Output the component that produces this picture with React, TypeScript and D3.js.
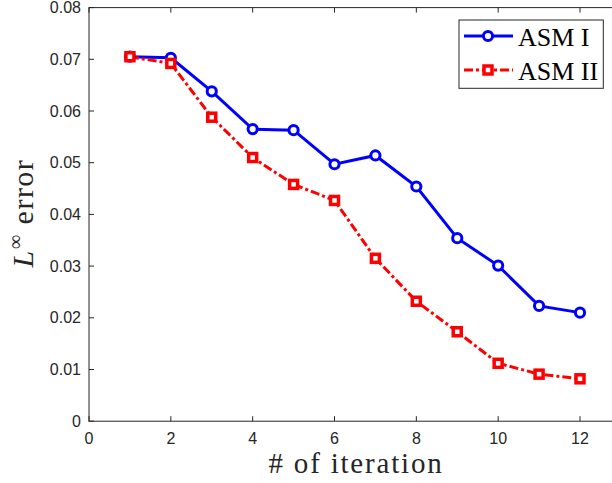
import React from "react";
import * as d3 from "d3";

const iterations = [1, 2, 3, 4, 5, 6, 7, 8, 9, 10, 11, 12];
const asm1 = [0.0705, 0.0703, 0.0638, 0.0565, 0.0563, 0.0497, 0.0514, 0.0454, 0.0354, 0.0301, 0.0223, 0.021];
const asm2 = [0.0705, 0.0692, 0.0588, 0.051, 0.0458, 0.0427, 0.0315, 0.0232, 0.0173, 0.0112, 0.0091, 0.0082];
const xTicks = [0, 2, 4, 6, 8, 10, 12];
const yTicks = [0, 0.01, 0.02, 0.03, 0.04, 0.05, 0.06, 0.07, 0.08];
const seriesNames = ["ASM I", "ASM II"];

const W = 612;
const H = 483;
const left = 89;
const top = 7.6;
const bottom = 421.2;
const axisColor = "#262626";

export default function App() {
  const x = d3.scaleLinear().domain([0, 12]).range([left, 580]);
  const y = d3.scaleLinear().domain([0, 0.08]).range([bottom, top]);
  const right = x(13);
  const line = d3
    .line<number>()
    .x((_, i) => x(iterations[i]))
    .y((d) => y(d));
  const sans = "Arial, 'Liberation Sans', Helvetica, sans-serif";
  const serif = "'Liberation Serif', 'Times New Roman', serif";
  const lx0 = 459, ly0 = 20, ly1 = 88.3;
  const sq = 8;
  return (
    <svg
      width={W}
      height={H}
      style={{ position: "absolute", left: 0, top: 0, background: "#fff" }}
    >
      <rect x={0} y={0} width={W} height={H} fill="#fff" />
      {/* axes box */}
      <rect x={left} y={top} width={right - left} height={bottom - top} fill="none" stroke={axisColor} strokeWidth={1} />
      {xTicks.map((t) => (
        <g key={"x" + t}>
          <line x1={x(t)} x2={x(t)} y1={bottom} y2={bottom - 5} stroke={axisColor} />
          <line x1={x(t)} x2={x(t)} y1={top} y2={top + 5} stroke={axisColor} />
          <text x={x(t)} y={438} textAnchor="middle" dominantBaseline="central" fontFamily={sans} fontSize={16} fill={axisColor}>
            {t}
          </text>
        </g>
      ))}
      {yTicks.map((t) => (
        <g key={"y" + t}>
          <line x1={left} x2={left + 5} y1={y(t)} y2={y(t)} stroke={axisColor} />
          <text x={81} y={y(t)} textAnchor="end" dominantBaseline="central" fontFamily={sans} fontSize={16} fill={axisColor}>
            {t === 0 ? "0" : t.toFixed(2)}
          </text>
        </g>
      ))}
      {/* series */}
      <path d={line(asm1) || ""} fill="none" stroke="#0000ff" strokeWidth={3} />
      <path d={line(asm2) || ""} fill="none" stroke="#ff0000" strokeWidth={3} strokeDasharray="9,3,3,3" />
      {asm1.map((v, i) => (
        <circle key={"c" + i} cx={x(iterations[i])} cy={y(v)} r={4.6} fill="#fff" stroke="#0000ff" strokeWidth={3} />
      ))}
      {asm2.map((v, i) => (
        <rect key={"s" + i} x={x(iterations[i]) - sq / 2} y={y(v) - sq / 2} width={sq} height={sq} fill="#fff" stroke="#ff0000" strokeWidth={3.5} />
      ))}
      {/* legend */}
      <rect x={lx0} y={ly0} width={603.3 - lx0} height={ly1 - ly0} fill="#fff" stroke={axisColor} strokeWidth={1} />
      <line x1={464} x2={513} y1={36} y2={36} stroke="#0000ff" strokeWidth={3} />
      <circle cx={488} cy={36} r={4.6} fill="#fff" stroke="#0000ff" strokeWidth={3} />
      <text x={518} y={37} dominantBaseline="central" fontFamily={serif} fontSize={26} fill="#000">
        {seriesNames[0]}
      </text>
      <line x1={464} x2={513} y1={70} y2={70} stroke="#ff0000" strokeWidth={3} strokeDasharray="9,3,3,3" />
      <rect x={488 - sq / 2} y={70 - sq / 2} width={sq} height={sq} fill="#fff" stroke="#ff0000" strokeWidth={3.5} />
      <text x={518} y={71} dominantBaseline="central" fontFamily={serif} fontSize={26} fill="#000">
        {seriesNames[1]}
      </text>
      {/* axis labels */}
      <text x={356} y={473} textAnchor="middle" fontFamily={serif} fontSize={29} letterSpacing={1.8} fill={axisColor}>
        # of iteration
      </text>
      <text
        transform={`translate(33, ${213}) rotate(-90)`}
        textAnchor="middle"
        fontFamily={serif}
        fontSize={30}
        letterSpacing={1.5}
        fill={axisColor}
      >
        <tspan fontStyle="italic">L</tspan>
        <tspan fontSize={20} dy={-11}>∞</tspan>
        <tspan dy={11}> error</tspan>
      </text>
    </svg>
  );
}
